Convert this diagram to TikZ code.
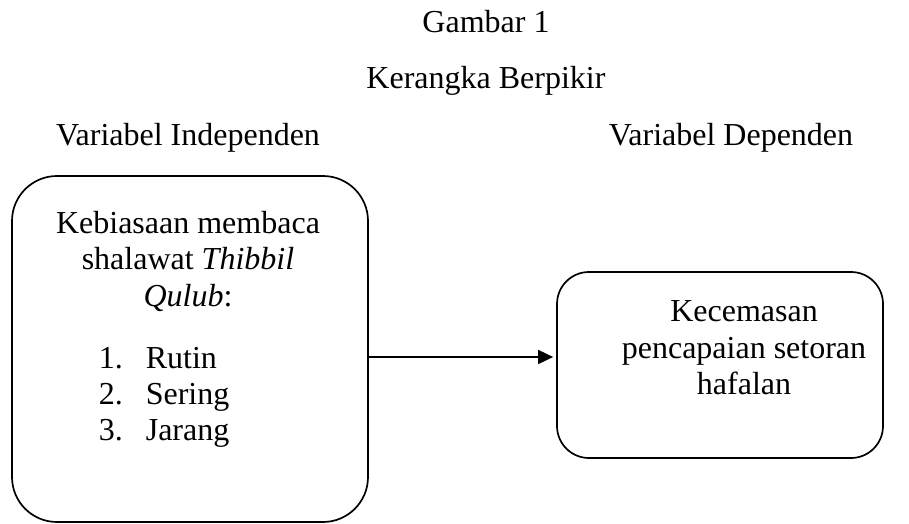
\documentclass[tikz,border=0pt]{standalone}
\usepackage{fontspec}
\setmainfont{Liberation Serif}
\usetikzlibrary{arrows.meta}

\begin{document}
\begin{tikzpicture}[x=1pt,y=-1pt,>={Triangle[length=15pt,width=14pt]},
                    line width=1.7pt]
  \tikzstyle{every node}=[font=\fontsize{32}{36.5}\selectfont,inner sep=0pt]
  \tikzstyle{var box}=[draw,rounded corners=45pt]
  \tikzstyle{caption}=[anchor=base]

  \useasboundingbox (0,0) rectangle (909,524);

  % judul
  \node[caption] (gambar)      at (486,33)  {Gambar 1};
  \node[caption] (judul)       at (486,89)  {Kerangka Berpikir};
  \node[caption] (indep label) at (188,145) {Variabel Independen};
  \node[caption] (dep label)   at (731,145) {Variabel Dependen};

  % kotak variabel
  \node[var box,minimum width=356pt,minimum height=346pt] (indep) at (190,349) {};
  \node[var box,rounded corners=32pt,minimum width=326pt,minimum height=186pt]
       (dep) at (720,365) {};

  \node[anchor=north,align=center] (indep text) at (188,210)
       {Kebiasaan membaca\\shalawat \textit{Thibbil}\\\textit{Qulub}:};
  \foreach \i/\f in {1/Rutin,2/Sering,3/Jarang}
    \node[caption,anchor=base west] (item\i) at (98,{368+36*(\i-1)})
         {\makebox[47pt][l]{\i.}\f};

  \node[anchor=north,align=center] (dep text) at (744,300)
       {Kecemasan\\pencapaian setoran\\hafalan};

  \draw[->,shorten >=3pt] (indep.east |- 0,357) -- (dep.west |- 0,357);
\end{tikzpicture}
\end{document}
